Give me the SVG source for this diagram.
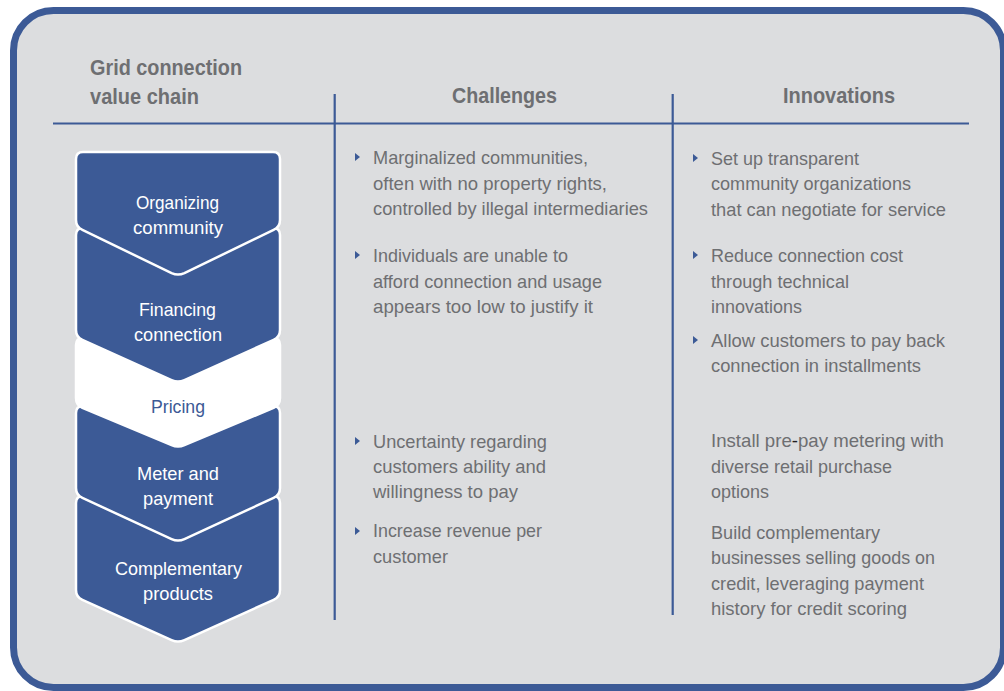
<svg xmlns="http://www.w3.org/2000/svg" width="1004" height="691" viewBox="0 0 1004 691">
<style>
.frame{fill:#dcdddf;stroke:#3c5a96;stroke-width:7}
.rule{stroke:#3c5a96;stroke-width:2.2;fill:none}
.chev{fill:#3c5a96;stroke:#ffffff;stroke-width:2.5;stroke-linejoin:round}
.chevw{fill:#ffffff;stroke:#ffffff;stroke-width:2.5;stroke-linejoin:round}
text{font-family:"Liberation Sans Narrow","Liberation Sans",Arial,sans-serif}
.hd{font-size:22px;font-weight:bold;fill:#6e6f72}
.bd{font-size:19px;fill:#6e6f72}
.cl{font-size:19px;fill:#ffffff}
.clb{font-size:19px;fill:#3c5a96}
.bul{fill:#3c5a96}
</style>
<defs>
<polygon id="tri" points="0,-4 5,0 0,4"/>
</defs>
<rect class="frame" x="13.5" y="10.5" width="990" height="677" rx="40" ry="40"/>

<g id="connectors">
<line class="rule" x1="53" y1="123.5" x2="969" y2="123.5"/>
<line class="rule" x1="334.7" y1="94" x2="334.7" y2="620"/>
<line class="rule" x1="672.7" y1="94" x2="672.7" y2="615"/>
</g>

<g id="header">
<text class="hd" x="90" y="75" textLength="152" lengthAdjust="spacingAndGlyphs">Grid connection</text>
<text class="hd" x="90" y="104" textLength="109" lengthAdjust="spacingAndGlyphs">value chain</text>
<text class="hd" x="452" y="103" textLength="105" lengthAdjust="spacingAndGlyphs">Challenges</text>
<text class="hd" x="783" y="103" textLength="112" lengthAdjust="spacingAndGlyphs">Innovations</text>
</g>

<g id="chev-complementary">
<path class="chev" d="M83,496 H273 Q280,496 280,503 V590 Q280,597 273.6,599.9 L184.4,640.1 Q178,643 171.6,640.1 L82.4,599.9 Q76,597 76,590 V503 Q76,496 83,496 Z"/>
<text class="cl" x="115" y="575" textLength="127" lengthAdjust="spacingAndGlyphs">Complementary</text>
<text class="cl" x="143" y="600" textLength="70" lengthAdjust="spacingAndGlyphs">products</text>
</g>
<g id="chev-meter">
<path class="chev" d="M83,406 H273 Q280,406 280,413 V488 Q280,495 273.6,497.9 L184.4,539.1 Q178,542 171.6,539.1 L82.4,497.9 Q76,495 76,488 V413 Q76,406 83,406 Z"/>
<text class="cl" x="137" y="480" textLength="82" lengthAdjust="spacingAndGlyphs">Meter and</text>
<text class="cl" x="143" y="505" textLength="70" lengthAdjust="spacingAndGlyphs">payment</text>
</g>
<g id="chev-pricing">
<path class="chevw" d="M83,338 H273 Q280,338 280,345 V398 Q280,405 273.6,407.9 L184.4,445.1 Q178,448 171.6,445.1 L82.4,407.9 Q76,405 76,398 V345 Q76,338 83,338 Z"/>
<text class="clb" x="151" y="413" textLength="54" lengthAdjust="spacingAndGlyphs">Pricing</text>
</g>
<g id="chev-financing">
<path class="chev" d="M83,228 H273 Q280,228 280,235 V330 Q280,337 273.6,339.9 L184.4,380.1 Q178,383 171.6,380.1 L82.4,339.9 Q76,337 76,330 V235 Q76,228 83,228 Z"/>
<text class="cl" x="139" y="316" textLength="77" lengthAdjust="spacingAndGlyphs">Financing</text>
<text class="cl" x="134" y="341" textLength="88" lengthAdjust="spacingAndGlyphs">connection</text>
</g>
<g id="chev-organizing">
<path class="chev" d="M83,152 H273 Q280,152 280,159 V220 Q280,227 273.6,229.9 L184.4,273.1 Q178,276 171.6,273.1 L82.4,229.9 Q76,227 76,220 V159 Q76,152 83,152 Z"/>
<text class="cl" x="136" y="209" textLength="83" lengthAdjust="spacingAndGlyphs">Organizing</text>
<text class="cl" x="133" y="234" textLength="90" lengthAdjust="spacingAndGlyphs">community</text>
</g>

<g id="challenge-1">
<use href="#tri" class="bul" x="355" y="157"/>
<text class="bd" x="373" y="164" textLength="215" lengthAdjust="spacingAndGlyphs">Marginalized communities,</text>
<text class="bd" x="373" y="189.5" textLength="234" lengthAdjust="spacingAndGlyphs">often with no property rights,</text>
<text class="bd" x="373" y="215" textLength="275" lengthAdjust="spacingAndGlyphs">controlled by illegal intermediaries</text>
</g>
<g id="challenge-2">
<use href="#tri" class="bul" x="355" y="255"/>
<text class="bd" x="373" y="262" textLength="195" lengthAdjust="spacingAndGlyphs">Individuals are unable to</text>
<text class="bd" x="373" y="287.5" textLength="229" lengthAdjust="spacingAndGlyphs">afford connection and usage</text>
<text class="bd" x="373" y="313" textLength="220" lengthAdjust="spacingAndGlyphs">appears too low to justify it</text>
</g>
<g id="challenge-3">
<use href="#tri" class="bul" x="355" y="441"/>
<text class="bd" x="373" y="448" textLength="174" lengthAdjust="spacingAndGlyphs">Uncertainty regarding</text>
<text class="bd" x="373" y="473" textLength="173" lengthAdjust="spacingAndGlyphs">customers ability and</text>
<text class="bd" x="373" y="498" textLength="145" lengthAdjust="spacingAndGlyphs">willingness to pay</text>
</g>
<g id="challenge-4">
<use href="#tri" class="bul" x="355" y="531"/>
<text class="bd" x="373" y="537" textLength="169" lengthAdjust="spacingAndGlyphs">Increase revenue per</text>
<text class="bd" x="373" y="563" textLength="75" lengthAdjust="spacingAndGlyphs">customer</text>
</g>

<g id="innovation-1">
<use href="#tri" class="bul" x="693" y="158"/>
<text class="bd" x="711" y="165" textLength="148" lengthAdjust="spacingAndGlyphs">Set up transparent</text>
<text class="bd" x="711" y="190" textLength="200" lengthAdjust="spacingAndGlyphs">community organizations</text>
<text class="bd" x="711" y="216" textLength="235" lengthAdjust="spacingAndGlyphs">that can negotiate for service</text>
</g>
<g id="innovation-2">
<use href="#tri" class="bul" x="693" y="255"/>
<text class="bd" x="711" y="262" textLength="192" lengthAdjust="spacingAndGlyphs">Reduce connection cost</text>
<text class="bd" x="711" y="287.5" textLength="138" lengthAdjust="spacingAndGlyphs">through technical</text>
<text class="bd" x="711" y="313" textLength="91" lengthAdjust="spacingAndGlyphs">innovations</text>
</g>
<g id="innovation-3">
<use href="#tri" class="bul" x="693" y="340"/>
<text class="bd" x="711" y="347" textLength="234" lengthAdjust="spacingAndGlyphs">Allow customers to pay back</text>
<text class="bd" x="711" y="372" textLength="210" lengthAdjust="spacingAndGlyphs">connection in installments</text>
</g>
<g id="innovation-4">
<text class="bd" x="711" y="447" textLength="233" lengthAdjust="spacingAndGlyphs">Install pre<tspan fill="#231f20">-</tspan>pay metering with</text>
<text class="bd" x="711" y="473" textLength="181" lengthAdjust="spacingAndGlyphs">diverse retail purchase</text>
<text class="bd" x="711" y="498" textLength="58" lengthAdjust="spacingAndGlyphs">options</text>
</g>
<g id="innovation-5">
<text class="bd" x="711" y="539" textLength="169" lengthAdjust="spacingAndGlyphs">Build complementary</text>
<text class="bd" x="711" y="564" textLength="224" lengthAdjust="spacingAndGlyphs">businesses selling goods on</text>
<text class="bd" x="711" y="590" textLength="213" lengthAdjust="spacingAndGlyphs">credit, leveraging payment</text>
<text class="bd" x="711" y="615" textLength="196" lengthAdjust="spacingAndGlyphs">history for credit scoring</text>
</g>
</svg>
